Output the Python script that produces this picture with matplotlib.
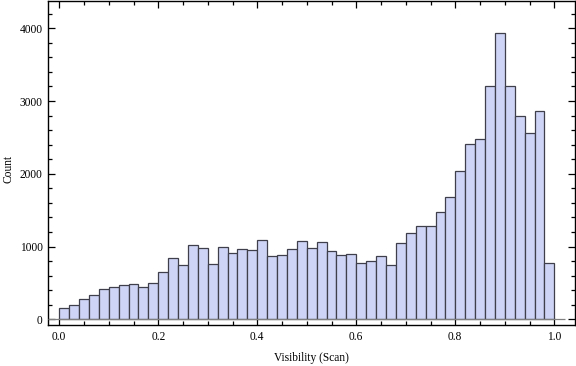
import numpy as np
import matplotlib
matplotlib.use("Agg")
import matplotlib.pyplot as plt
from matplotlib.ticker import MultipleLocator

counts = [151, 192, 275, 330, 412, 440, 467, 481, 440, 495,
          650, 838, 742, 1017, 976, 756, 990, 907, 962, 948,
          1086, 866, 880, 962, 1072, 976, 1058, 935, 880, 893,
          770, 797, 866, 742, 1045, 1182, 1278, 1278, 1471, 1677,
          2034, 2405, 2474, 3203, 3931, 3203, 2790, 2557, 2864, 770]
bin_start = 0.0
bin_width = 0.02
edges = bin_start + bin_width * np.arange(len(counts) + 1)

xticks = [0.0, 0.2, 0.4, 0.6, 0.8, 1.0]
xticklabels = ["0.0", "0.2", "0.4", "0.6", "0.8", "1.0"]
yticks = [0, 1000, 2000, 3000, 4000]
yticklabels = ["0", "1000", "2000", "3000", "4000"]
xlabel = "Visibility (Scan)"
ylabel = "Count"

plt.rcParams['font.family'] = ['Liberation Serif', 'DejaVu Serif']

fig = plt.figure(figsize=(5.76, 3.66), dpi=100)
ax = fig.add_axes([48.3 / 576, 41 / 366, (574.5 - 48.3) / 576, (325 - 1) / 366])

ax.bar(edges[:-1], counts, width=bin_width, align='edge',
       color='#CDD4F5', edgecolor='#3E3F4A', linewidth=0.9, zorder=2)
ax.plot([-0.0222, 1.021], [0, 0], color='#808080', linewidth=0.9, zorder=3,
        solid_capstyle='butt')

ax.set_xlim(-0.0222, 1.0408)
ax.set_ylim(-78, 4375)

ax.set_xticks(xticks)
ax.set_xticklabels(xticklabels)
ax.set_yticks(yticks)
ax.set_yticklabels(yticklabels)
ax.xaxis.set_minor_locator(MultipleLocator(0.05))
ax.yaxis.set_minor_locator(MultipleLocator(200))

ax.tick_params(which='both', direction='in', top=True, right=True,
               labelsize=8.3, colors='black', width=0.9, pad=4)
ax.tick_params(which='major', length=5)
ax.tick_params(which='minor', length=3)

for s in ax.spines.values():
    s.set_linewidth(1.0)
    s.set_color('black')

ax.set_xlabel(xlabel, fontsize=8.3, labelpad=7)
fig.text(8.5 / 576, (366 - 169) / 366, ylabel, fontsize=8.3, rotation=90,
         ha='center', va='center')

fig.savefig("out.png", dpi=100)
